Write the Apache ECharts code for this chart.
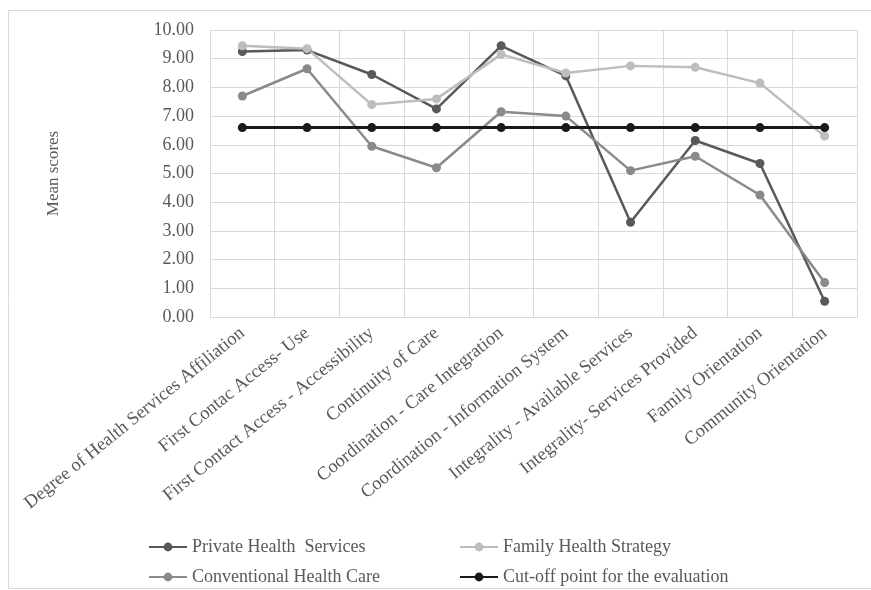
<!DOCTYPE html>
<html><head><meta charset="utf-8">
<script src="https://cdn.jsdelivr.net/npm/echarts@6/dist/echarts.min.js"></script>
<style>html,body{margin:0;padding:0;background:#fff}#c{width:871px;height:590px}</style>
</head><body><div id="c"></div>
<script>
const categories = ["Degree of Health Services Affiliation","First Contac Access- Use","First Contact Access - Accessibility","Continuity of Care","Coordination - Care Integration","Coordination - Information System","Integrality - Available Services","Integrality- Services Provided","Family Orientation","Community Orientation"];
const privateHealth = [9.25, 9.3, 8.45, 7.25, 9.45, 8.4, 3.3, 6.15, 5.35, 0.55];
const familyHealth = [9.45, 9.35, 7.4, 7.6, 9.15, 8.5, 8.75, 8.7, 8.15, 6.3];
const conventional = [7.7, 8.65, 5.95, 5.2, 7.15, 7.0, 5.1, 5.6, 4.25, 1.2];
const cutoff = [6.6, 6.6, 6.6, 6.6, 6.6, 6.6, 6.6, 6.6, 6.6, 6.6];
const seriesNames = ["Private Health  Services","Family Health Strategy","Conventional Health Care","Cut-off point for the evaluation"];
const yTicks = [0,1,2,3,4,5,6,7,8,9,10];

const font = "Liberation Serif";
const txt = '#595959';
const chart = echarts.init(document.getElementById('c'));
function mk(name, data, color, w) {
  return {name, type:'line', data, symbol:'circle', symbolSize:9,
    lineStyle:{color, width:w}, itemStyle:{color}, z: 3};
}
function lg(name, left, top) {
  return {data:[name], left, top, itemWidth:38, itemHeight:11, itemGap:4,
    textStyle:{fontFamily:font, fontSize:18, color:txt}};
}
chart.setOption({
  animation:false,
  textStyle:{fontFamily:font},
  graphic:[{type:'rect', shape:{x:8.5,y:10.5,width:870,height:578}, style:{fill:'none', stroke:'#d9d9d9', lineWidth:1}, silent:true}],
  legend:[lg(seriesNames[0],143,533), lg(seriesNames[1],454,533), lg(seriesNames[2],143,563), lg(seriesNames[3],454,563)],
  grid:{left:210, right:14, top:30, bottom:273},
  xAxis:{type:'category', data:categories, boundaryGap:true,
    axisLine:{lineStyle:{color:'#d9d9d9'}}, axisTick:{show:false},
    splitLine:{show:true, lineStyle:{color:'#d9d9d9'}},
    axisLabel:{rotate:39, interval:0, fontFamily:font, fontSize:18.5, color:txt, margin:14}},
  yAxis:{type:'value', min:0, max:10, interval:1, name:'Mean scores', nameLocation:'middle', nameGap:148,
    nameTextStyle:{fontFamily:font, fontSize:17, color:txt},
    axisLine:{show:false}, axisTick:{show:false},
    splitLine:{lineStyle:{color:'#d9d9d9'}},
    axisLabel:{fontFamily:font, fontSize:18, color:txt, margin:16, formatter:v=>yTicks.includes(v)?v.toFixed(2):''}},
  series:[mk(seriesNames[0],privateHealth,'#595959',2.5), mk(seriesNames[1],familyHealth,'#bdbdbd',2.5),
    mk(seriesNames[2],conventional,'#8a8a8a',2.5), mk(seriesNames[3],cutoff,'#1a1a1a',3)]
});
</script></body></html>
